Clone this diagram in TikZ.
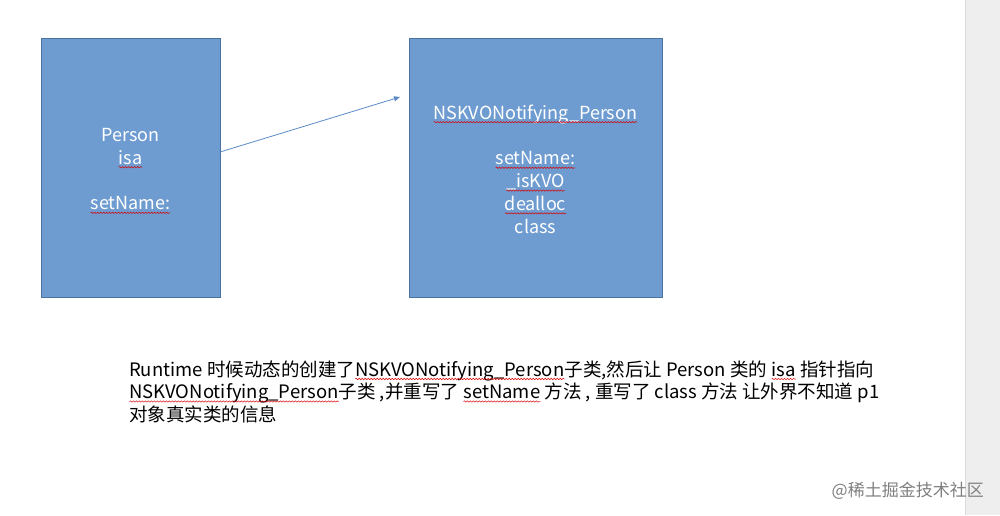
\documentclass[tikz,border=0pt]{standalone}
\usepackage{fontspec}
\setmainfont{Noto Sans CJK SC}
\usetikzlibrary{arrows.meta,decorations.pathmorphing}
\definecolor{boxblue}{RGB}{110,156,208}
\definecolor{boxline}{RGB}{72,114,160}
\definecolor{arrowblue}{RGB}{92,140,200}
\definecolor{barfill}{RGB}{238,238,238}
\definecolor{barline}{RGB}{218,218,218}
\tikzset{
    classbox/.style={draw=boxline, fill=boxblue, minimum height=259pt, inner sep=0pt},
    boxtext/.style={text=white, align=center, inner sep=0pt,
        font=\fontsize{18}{22.8}\selectfont},
    noteline/.style={anchor=base west, inner sep=0pt, font=\fontsize{18.5}{22.5}\selectfont},
    wordbox/.style={inner sep=0pt, outer sep=0pt, minimum size=0pt, draw=none, fill=none},
    spellwave/.style={draw=red!85!black, line width=0.5pt, decorate,
        decoration={snake, amplitude=0.7pt, segment length=3pt}},
}
% spell checker wave under a word
\newcommand{\spell}[1]{\tikz[baseline=(word.base)]{\node[wordbox] (word) {#1};
    \path[spellwave] ([yshift=-3pt]word.base west) -- ([yshift=-3pt]word.base east);}}
\begin{document}
\begin{tikzpicture}[x=1pt,y=-1pt]
\useasboundingbox (0,0) rectangle (1000,515);
\fill[white] (0,0) rectangle (1000,515);
% scroll bar
\fill[barfill] (965,0) rectangle (1000,515);
\draw[barline] (965,0) -- (965,515);
\node[classbox, minimum width=179pt] (person) at (130.5,167.5) {};
\node[classbox, minimum width=253pt] (kvoclass) at (535.5,167.5) {};
\node[boxtext, yshift=-3.5pt] (persontext) at (person.center)
    {Person\\\spell{isa}\\ \\\spell{setName:}};
\node[boxtext, yshift=-1.5pt] (kvotext) at (kvoclass.center)
    {\spell{NSKVONotifying\_Person}\\ \\\spell{setName:}\\\spell{\_isKVO}\\\spell{dealloc}\\class};
\coordinate (from) at (220,152);
\coordinate (to) at (400,97);
\draw[arrowblue, line width=0.8pt, -{Triangle[length=6pt,width=5pt]}] (from) -- (to);
\node[noteline] (line1) at (129,376)
    {Runtime 时候动态的创建了\spell{NSKVONotifying\_Person}子类,然后让 Person 类的 \spell{isa} 指针指向};
\node[noteline] (line2) at (129,398.5)
    {\spell{NSKVONotifying\_Person}子类 ,并重写了 \spell{setName} 方法 , 重写了 class 方法 让外界不知道 p1};
\node[noteline] (line3) at (129,421)
    {对象真实类的信息};
% watermark
\node[anchor=base east, inner sep=0pt, text=gray, font=\fontsize{17}{20}\selectfont] (mark) at (984,496)
    {@稀土掘金技术社区};
\end{tikzpicture}
\end{document}
